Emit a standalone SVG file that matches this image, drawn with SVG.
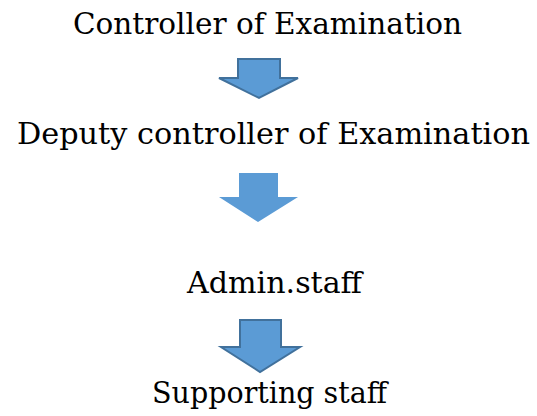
<svg xmlns="http://www.w3.org/2000/svg" width="537" height="416" viewBox="0 0 537 416">
<style>
.a{fill:#5B9BD5;stroke:#41719C;stroke-width:2;stroke-linejoin:miter}
.b{fill:#5B9BD5;stroke:none}
</style>
<rect width="537" height="416" fill="#fff"/>
<g font-family="'DejaVu Serif', 'Liberation Serif', serif" font-size="30" fill="#000">
<g id="n1"><text x="73" y="34" textLength="389" lengthAdjust="spacingAndGlyphs">Controller of Examination</text></g>
<g id="n2"><text x="17" y="144" textLength="513" lengthAdjust="spacingAndGlyphs">Deputy controller of Examination</text></g>
<g id="n3"><text x="187" y="293" textLength="175" lengthAdjust="spacingAndGlyphs">Admin.staff</text></g>
<g id="n4"><text x="152" y="403" textLength="235" lengthAdjust="spacingAndGlyphs">Supporting staff</text></g>
</g>
<g id="connectors">
<polygon class="a" points="238,59 280,59 280,78 298,78 259,98 219,78 238,78"/>
<polygon class="b" points="239,173 278,173 278,197 298,197 258,222 219,197 239,197"/>
<polygon class="a" points="240,320 281,320 281,347 300,347 260,372 221,347 240,347"/>
</g>
</svg>
